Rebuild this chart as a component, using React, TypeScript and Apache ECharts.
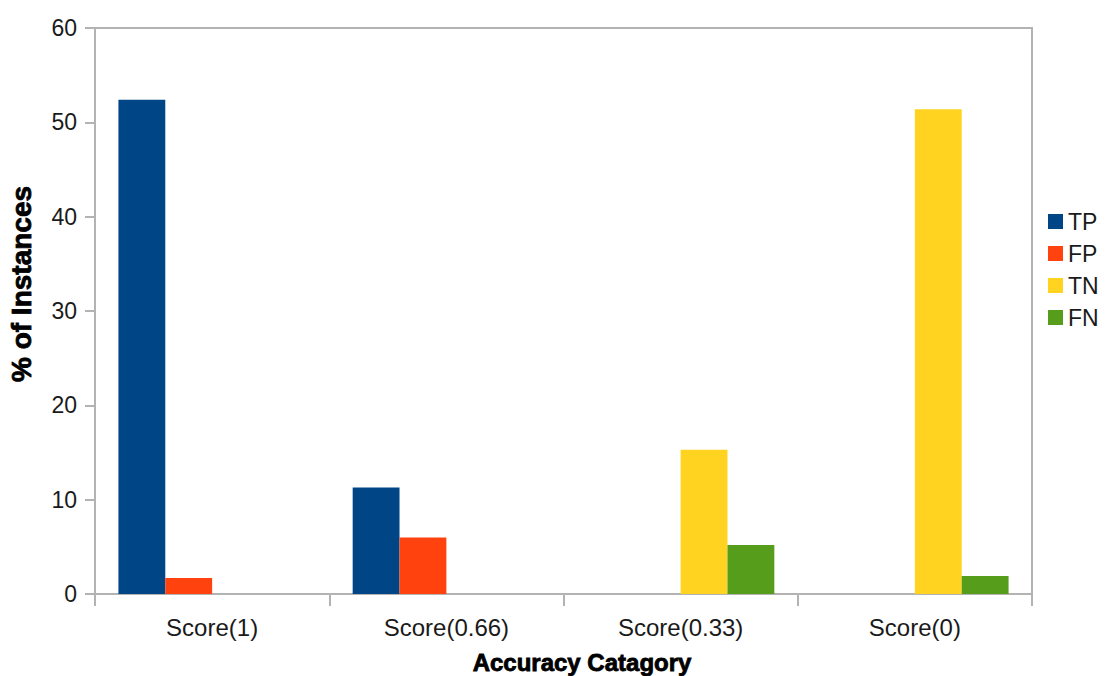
import React, { useEffect, useRef } from "react";
import * as echarts from "echarts";

const categories = ["Score(1)", "Score(0.66)", "Score(0.33)", "Score(0)"];
const tpValues = [52.4, 11.3, "-", "-"];
const fpValues = [1.7, 6.0, "-", "-"];
const tnValues = ["-", "-", 15.3, 51.4];
const fnValues = ["-", "-", 5.2, 1.9];
const seriesNames = ["TP", "FP", "TN", "FN"];
const seriesColors = ["#004586", "#ff420e", "#ffd320", "#579d1c"];
const xAxisTitle = "Accuracy Catagory";
const yAxisTitle = "% of Instances";

export default function App() {
  const ref = useRef<HTMLDivElement>(null);
  useEffect(() => {
    if (!ref.current) return;
    const chart = echarts.init(ref.current, undefined, { renderer: "svg" });
    const values = [tpValues, fpValues, tnValues, fnValues];
    const font = "'Liberation Sans', Arial, sans-serif";
    chart.setOption({
      animation: false,
      backgroundColor: "#ffffff",
      textStyle: { fontFamily: font },
      grid: {
        left: 95,
        right: 74,
        top: 28,
        bottom: 82,
        show: true,
        borderColor: "#b3b3b3",
        borderWidth: 2,
        containLabel: false,
        outerBoundsMode: "none",
      },
      legend: {
        orient: "vertical",
        left: 1043,
        top: 205,
        itemWidth: 15,
        itemHeight: 15,
        itemGap: 9,
        icon: "rect",
        textStyle: { fontSize: 23, lineHeight: 20, color: "#1a1a1a", fontFamily: font },
        data: seriesNames,
      },
      graphic: [
        {
          type: "text",
          x: 582,
          y: 662,
          style: {
            text: xAxisTitle,
            fontSize: 24,
            fontWeight: "bold",
            fontFamily: font,
            fill: "#000000",
            stroke: "#000000",
            lineWidth: 0.8,
            textAlign: "center",
            textVerticalAlign: "middle",
          },
        },
        {
          type: "text",
          x: 21,
          y: 284,
          rotation: Math.PI / 2,
          style: {
            text: yAxisTitle,
            fontSize: 28,
            fontWeight: "bold",
            fontFamily: font,
            fill: "#000000",
            stroke: "#000000",
            lineWidth: 0.8,
            textAlign: "center",
            textVerticalAlign: "middle",
          },
        },
      ],
      xAxis: {
        type: "category",
        data: categories,
        axisLine: { show: true, lineStyle: { color: "#b3b3b3", width: 2 } },
        axisTick: { show: true, length: 12, lineStyle: { color: "#b3b3b3", width: 2 } },
        axisLabel: { fontSize: 24, color: "#1a1a1a", margin: 21, fontFamily: font },
        splitLine: { show: false },
      },
      yAxis: {
        type: "value",
        min: 0,
        max: 60,
        interval: 10,
        axisLine: { show: true, lineStyle: { color: "#b3b3b3", width: 2 } },
        axisTick: { show: true, length: 10, lineStyle: { color: "#b3b3b3", width: 2 } },
        axisLabel: { fontSize: 23, color: "#1a1a1a", margin: 18, fontFamily: font },
        splitLine: { show: false },
      },
      series: seriesNames.map((name, i) => ({
        name,
        type: "bar",
        data: values[i],
        barGap: "0%",
        barCategoryGap: "20%",
        itemStyle: { color: seriesColors[i] },
      })),
    });
    return () => chart.dispose();
  }, []);
  return <div ref={ref} style={{ width: 1106, height: 676, position: "absolute", left: 0, top: 0 }} />;
}
